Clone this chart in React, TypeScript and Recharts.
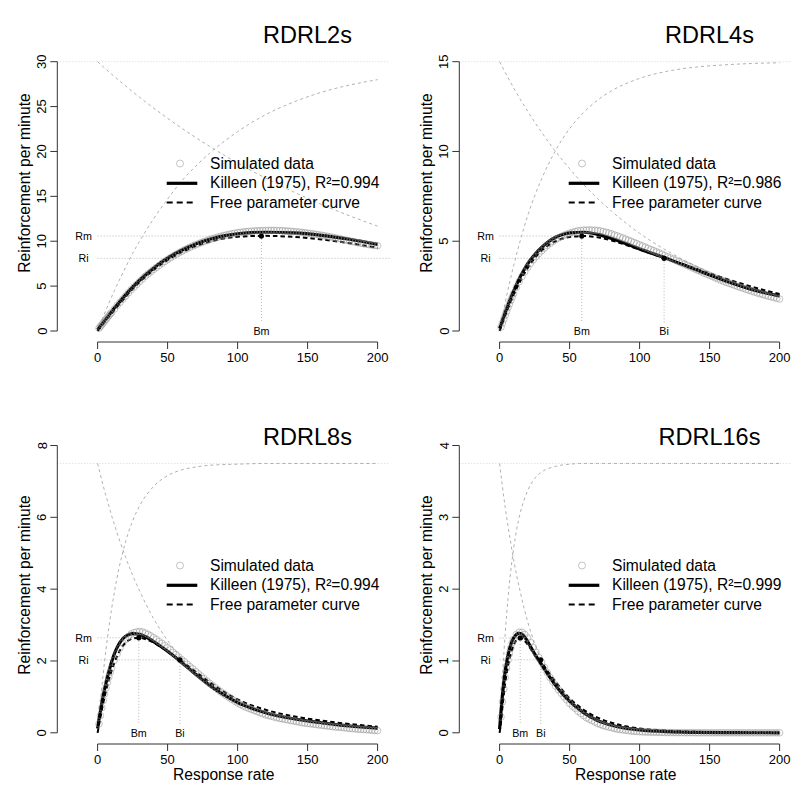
import React from "react";
import {
  ComposedChart,
  Line,
  Scatter,
  XAxis,
  YAxis,
  ReferenceLine,
  ReferenceDot,
} from "recharts";

// ---- data ----
const titles = ["RDRL2s", "RDRL4s", "RDRL8s", "RDRL16s"];
const r2Values = ["0.994", "0.986", "0.994", "0.999"];
const yMaxTicks = [30, 15, 8, 4];
const yTickSets = [
  [0, 5, 10, 15, 20, 25, 30],
  [0, 5, 10, 15],
  [0, 2, 4, 6, 8],
  [0, 1, 2, 3, 4],
];
const xTicks = [0, 50, 100, 150, 200];
const asymptotes = [30, 15, 7.5, 3.75];
const bmValues = [117, 58.7, 29.4, 14.7];
const rmValues = [10.58, 5.29, 2.645, 1.32];
const biValues = [234, 117.5, 58.8, 29.4];
const riValues = [8.1, 4.05, 2.03, 1.016];

const fitX = [0, 1, 2, 3, 4, 5, 6, 8, 10, 12, 14, 16, 18, 20, 25, 30, 35, 40, 45, 50, 60, 70, 80, 90, 100, 120, 140, 160, 180, 200];
const p1Killeen = [0.15, 0.35, 0.55, 0.75, 0.95, 1.15, 1.35, 1.75, 2.15, 2.55, 2.93, 3.3, 3.67, 4.03, 4.88, 5.65, 6.35, 7.0, 7.6, 8.12, 9.0, 9.7, 10.22, 10.6, 10.83, 11.0, 10.93, 10.66, 10.22, 9.65];
const p1Free = [0, 0.2, 0.4, 0.6, 0.8, 1.0, 1.2, 1.58, 1.96, 2.34, 2.71, 3.08, 3.44, 3.8, 4.68, 5.45, 6.15, 6.8, 7.38, 7.9, 8.78, 9.45, 9.95, 10.3, 10.5, 10.6, 10.48, 10.2, 9.78, 9.25];
const p2Killeen = [0.15, 0.35, 0.58, 0.8, 1.02, 1.23, 1.44, 1.84, 2.22, 2.57, 2.9, 3.2, 3.48, 3.74, 4.25, 4.65, 4.98, 5.22, 5.38, 5.47, 5.5, 5.38, 5.15, 4.87, 4.57, 4.03, 3.42, 2.83, 2.32, 1.95];
const p2Free = [0, 0.22, 0.44, 0.65, 0.86, 1.06, 1.26, 1.65, 2.0, 2.34, 2.66, 2.96, 3.24, 3.5, 4.05, 4.47, 4.78, 5.0, 5.15, 5.24, 5.29, 5.22, 5.04, 4.8, 4.53, 4.0, 3.47, 2.95, 2.47, 2.06];
const p3Killeen = [0.12, 0.37, 0.6, 0.82, 1.03, 1.22, 1.39, 1.7, 1.97, 2.2, 2.38, 2.52, 2.62, 2.69, 2.76, 2.74, 2.66, 2.54, 2.41, 2.27, 1.96, 1.63, 1.32, 1.06, 0.84, 0.56, 0.39, 0.28, 0.19, 0.13];
const p3Free = [0, 0.22, 0.43, 0.63, 0.82, 1.0, 1.17, 1.47, 1.73, 1.95, 2.14, 2.3, 2.42, 2.51, 2.62, 2.645, 2.6, 2.51, 2.39, 2.26, 1.99, 1.7, 1.41, 1.15, 0.93, 0.64, 0.46, 0.34, 0.245, 0.17];
const p4Killeen = [0.05, 0.3, 0.52, 0.7, 0.86, 0.98, 1.08, 1.23, 1.32, 1.37, 1.385, 1.37, 1.33, 1.27, 1.1, 0.95, 0.8, 0.66, 0.54, 0.44, 0.28, 0.17, 0.105, 0.065, 0.04, 0.015, 0.006, 0.002, 0.001, 0];
const p4Free = [0, 0.15, 0.35, 0.53, 0.69, 0.82, 0.93, 1.1, 1.22, 1.29, 1.32, 1.31, 1.28, 1.23, 1.09, 0.98, 0.84, 0.71, 0.59, 0.48, 0.32, 0.21, 0.14, 0.09, 0.06, 0.03, 0.015, 0.008, 0.004, 0.002];

const simX = [
  1, 2, 3, 4, 5, 6, 7, 8, 9, 10,
  12, 14, 16, 18, 20, 22, 24, 26, 28, 30, 32, 34, 36, 38, 40,
  42, 44, 46, 48, 50, 52, 54, 56, 58, 60, 62, 64, 66, 68, 70, 72, 74, 76, 78, 80, 82, 84, 86, 88, 90, 92, 94, 96, 98, 100,
  102, 104, 106, 108, 110, 112, 114, 116, 118, 120, 122, 124, 126, 128, 130, 132, 134, 136, 138, 140,
  142, 144, 146, 148, 150, 152, 154, 156, 158, 160, 162, 164, 166, 168, 170, 172, 174, 176, 178, 180,
  182, 184, 186, 188, 190, 192, 194, 196, 198, 200,
];
const p1Sim = [
  0.3, 0.5, 0.7, 0.9, 1.1, 1.3, 1.5, 1.7, 1.9, 2.05,
  2.45, 2.85, 3.2, 3.55, 3.9, 4.25, 4.6, 4.9, 5.2, 5.5, 5.8, 6.1, 6.35, 6.6, 6.85,
  7.08, 7.31, 7.54, 7.75, 7.95, 8.15, 8.35, 8.53, 8.7, 8.87, 9.03, 9.18, 9.33, 9.47, 9.6, 9.73, 9.85, 9.97, 10.08, 10.18, 10.28, 10.37, 10.46, 10.55, 10.63, 10.7, 10.77, 10.84, 10.9, 10.95,
  11.0, 11.03, 11.07, 11.1, 11.12, 11.15, 11.17, 11.18, 11.19, 11.2, 11.21, 11.21, 11.21, 11.2, 11.19, 11.18, 11.16, 11.14, 11.11, 11.08,
  11.05, 11.02, 10.98, 10.95, 10.9, 10.86, 10.82, 10.77, 10.72, 10.66, 10.61, 10.55, 10.49, 10.43, 10.37, 10.3, 10.24, 10.17, 10.1, 10.03,
  9.97, 9.9, 9.84, 9.78, 9.72, 9.67, 9.62, 9.58, 9.54, 9.5,
];
const p2Sim = [
  0.22, 0.44, 0.66, 0.88, 1.09, 1.3, 1.5, 1.7, 1.89, 2.08,
  2.43, 2.75, 3.04, 3.3, 3.54, 3.76, 3.96, 4.14, 4.31, 4.47, 4.62, 4.76, 4.88, 4.99, 5.09,
  5.18, 5.26, 5.33, 5.39, 5.45, 5.5, 5.54, 5.58, 5.6, 5.62, 5.62, 5.63, 5.62, 5.61, 5.6, 5.57, 5.54, 5.5, 5.46, 5.41, 5.35, 5.3, 5.24, 5.18, 5.12, 5.06, 5.0, 4.93, 4.87, 4.8,
  4.74, 4.67, 4.61, 4.54, 4.48, 4.41, 4.35, 4.28, 4.2, 4.13, 4.07, 4.0, 3.93, 3.86, 3.79, 3.72, 3.65, 3.58, 3.51, 3.44,
  3.37, 3.3, 3.23, 3.16, 3.1, 3.03, 2.96, 2.9, 2.83, 2.77, 2.71, 2.65, 2.6, 2.54, 2.48, 2.43, 2.38, 2.32, 2.27, 2.22,
  2.17, 2.12, 2.07, 2.03, 1.98, 1.94, 1.9, 1.86, 1.82, 1.78,
];
const p3Sim = [
  0.25, 0.48, 0.7, 0.9, 1.08, 1.25, 1.4, 1.55, 1.68, 1.8,
  2.02, 2.2, 2.36, 2.5, 2.6, 2.68, 2.75, 2.79, 2.81, 2.82, 2.81, 2.78, 2.74, 2.7, 2.65,
  2.6, 2.54, 2.49, 2.43, 2.37, 2.31, 2.24, 2.18, 2.11, 2.04, 1.98, 1.91, 1.84, 1.78, 1.71, 1.64, 1.58, 1.51, 1.44, 1.38, 1.32, 1.26, 1.2, 1.14, 1.09, 1.03, 0.98, 0.93, 0.88, 0.83,
  0.79, 0.75, 0.71, 0.68, 0.65, 0.62, 0.59, 0.56, 0.53, 0.5, 0.48, 0.46, 0.44, 0.42, 0.4, 0.39, 0.37, 0.36, 0.34, 0.33,
  0.31, 0.3, 0.28, 0.27, 0.26, 0.25, 0.24, 0.23, 0.22, 0.21, 0.2, 0.19, 0.18, 0.17, 0.16, 0.155, 0.15, 0.14, 0.13, 0.12,
  0.115, 0.11, 0.1, 0.095, 0.09, 0.085, 0.08, 0.07, 0.065, 0.06,
];
const p4Sim = [
  0.22, 0.43, 0.61, 0.77, 0.9, 1.01, 1.1, 1.18, 1.25, 1.3,
  1.37, 1.4, 1.4, 1.37, 1.32, 1.26, 1.19, 1.12, 1.05, 0.98, 0.91, 0.84, 0.77, 0.71, 0.65,
  0.6, 0.55, 0.5, 0.46, 0.41, 0.37, 0.34, 0.3, 0.27, 0.24, 0.21, 0.19, 0.17, 0.15, 0.13, 0.115, 0.1, 0.09, 0.08, 0.07, 0.06, 0.05, 0.045, 0.04, 0.035, 0.03, 0.025, 0.02, 0.018, 0.015,
  0.013, 0.011, 0.01, 0.009, 0.008, 0.007, 0.006, 0.005, 0.004, 0.004, 0.003, 0.003, 0.002, 0.002, 0.002, 0.001, 0.001, 0.001, 0.001, 0.001,
  0, 0, 0, 0, 0, 0, 0, 0, 0, 0, 0, 0, 0, 0, 0, 0, 0, 0, 0, 0,
  0, 0, 0, 0, 0, 0, 0, 0, 0, 0,
];

const guideX = [0, 2, 4, 6, 8, 10, 12, 15, 20, 25, 30, 40, 50, 60, 70, 80, 100, 120, 140, 160, 180, 200];
const p1Rise = [0, 0.8, 1.58, 2.34, 3.07, 3.79, 4.5, 5.5, 7.1, 8.65, 10.0, 12.5, 14.7, 16.7, 18.35, 19.8, 22.2, 24.1, 25.5, 26.6, 27.4, 28.0];
const p1Decay = [30, 29.72, 29.44, 29.16, 28.89, 28.62, 28.35, 27.95, 27.3, 26.66, 26.04, 24.84, 23.7, 22.6, 21.56, 20.57, 18.72, 17.03, 15.5, 14.1, 12.83, 11.68];
const p2Rise = [0, 0.81, 1.58, 2.3, 2.98, 3.63, 4.24, 5.1, 6.41, 7.52, 8.47, 10.06, 11.27, 12.17, 12.86, 13.38, 14.07, 14.47, 14.7, 14.82, 14.9, 14.94];
const p2Decay = [15, 14.7, 14.4, 14.11, 13.83, 13.55, 13.28, 12.88, 12.25, 11.64, 11.07, 10.0, 9.04, 8.16, 7.38, 6.67, 5.44, 4.45, 3.63, 2.96, 2.42, 1.97];
const p3Rise = [0, 0.87, 1.64, 2.32, 2.92, 3.45, 3.92, 4.53, 5.32, 5.9, 6.32, 6.86, 7.16, 7.32, 7.4, 7.45, 7.48, 7.5, 7.5, 7.5, 7.5, 7.5];
const p3Decay = [7.5, 7.19, 6.88, 6.6, 6.32, 6.05, 5.8, 5.44, 4.89, 4.39, 3.95, 3.18, 2.57, 2.08, 1.68, 1.35, 0.88, 0.57, 0.37, 0.24, 0.16, 0.1];
const p4Rise = [0, 0.77, 1.38, 1.87, 2.26, 2.56, 2.81, 3.08, 3.37, 3.54, 3.63, 3.71, 3.74, 3.75, 3.75, 3.75, 3.75, 3.75, 3.75, 3.75, 3.75, 3.75];
const p4Decay = [3.75, 3.43, 3.14, 2.88, 2.64, 2.41, 2.21, 1.94, 1.55, 1.25, 1.0, 0.64, 0.41, 0.27, 0.17, 0.11, 0.046, 0.019, 0.008, 0.003, 0.001, 0.0005];

const killeenSets = [p1Killeen, p2Killeen, p3Killeen, p4Killeen];
const freeSets = [p1Free, p2Free, p3Free, p4Free];
const simSets = [p1Sim, p2Sim, p3Sim, p4Sim];
const riseSets = [p1Rise, p2Rise, p3Rise, p4Rise];
const decaySets = [p1Decay, p2Decay, p3Decay, p4Decay];

// ---- layout (pixels inside one 401.5px panel) ----
const FONT = '"Liberation Sans", Arial, Helvetica, sans-serif';
const PANEL = 401.5;
const PLOT_LEFT = 57.3;
const PLOT_RIGHT = 390;
const PLOT_TOP = 23;
const PLOT_BOTTOM = 342;
const X_ZERO_PX = 97.6;
const X_PX_PER_UNIT = 1.4;
const X_DOMAIN = [
  (PLOT_LEFT - X_ZERO_PX) / X_PX_PER_UNIT,
  (PLOT_RIGHT - X_ZERO_PX) / X_PX_PER_UNIT,
];
const AXIS = "#333";
const GUIDE = "#b0b0b0";
const REF = "#b5b5b5";
const SIM = "#8c8c8c";
const SIM_OPACITY = 0.5;

const toPts = (xs: number[], ys: number[]) => xs.map((x, i) => ({ x, y: ys[i] }));

function XTick(props: any) {
  return (
    <text x={props.x} y={361.5} textAnchor="middle" fontSize={13} fontFamily={FONT} fill="#000">
      {props.payload.value}
    </text>
  );
}

function YTick(props: any) {
  const y = props.y;
  return (
    <text
      x={46.5}
      y={y}
      transform={`rotate(-90 46.5 ${y})`}
      textAnchor="middle"
      fontSize={13}
      fontFamily={FONT}
      fill="#000"
    >
      {props.payload.value}
    </text>
  );
}

function SimCircle(props: any) {
  return (
    <circle cx={props.cx} cy={props.cy} r={3.3} fill="none" stroke={SIM} strokeOpacity={SIM_OPACITY} strokeWidth={1} />
  );
}

function KeyDot(props: any) {
  return <circle cx={props.cx} cy={props.cy} r={2.6} fill="#000" />;
}

function Panel({ i }: { i: number }) {
  const row = Math.floor(i / 2);
  const col = i % 2;
  const zeroPx = row === 0 ? 331 : 330.8;
  const topTickPx = row === 0 ? 61.7 : 43.5;
  const yMax = yMaxTicks[i];
  const k = (zeroPx - topTickPx) / yMax;
  const yDomain = [-(PLOT_BOTTOM - zeroPx) / k, yMax + (topTickPx - PLOT_TOP) / k];
  const bm = bmValues[i];
  const rm = rmValues[i];
  const bi = biValues[i];
  const ri = riValues[i];
  const biInside = bi <= 200;
  const stemEnd = 8.5 / k;
  const keyPts = [{ x: bm, y: rm }, ...(biInside ? [{ x: bi, y: ri }] : [])];
  const labelStyle = { fontSize: 10.7, fill: "#000", fontFamily: FONT, position: "center" as const };

  return (
    <div style={{ position: "absolute", left: col * PANEL, top: row * PANEL, width: PANEL, height: PANEL }}>
      <ComposedChart
        width={PANEL}
        height={PANEL}
        margin={{ top: PLOT_TOP, right: PANEL - PLOT_RIGHT, bottom: PANEL - PLOT_BOTTOM - 30, left: PLOT_LEFT - 40 }}
      >
        <XAxis
          type="number"
          dataKey="x"
          domain={X_DOMAIN}
          allowDataOverflow
          ticks={xTicks}
          interval={0}
          axisLine={false}
          tickLine={{ stroke: AXIS }}
          tickSize={7}
          tick={<XTick />}
          height={30}
        />
        <YAxis
          type="number"
          dataKey="y"
          domain={yDomain}
          allowDataOverflow
          ticks={yTickSets[i]}
          interval={0}
          axisLine={false}
          tickLine={{ stroke: AXIS }}
          tickSize={7}
          tick={<YTick />}
          width={40}
        />
        <ReferenceLine y={asymptotes[i]} stroke="#d6d6d6" strokeDasharray="1 2" ifOverflow="visible" />
        <ReferenceLine segment={[{ x: 0, y: rm }, { x: bm, y: rm }]} stroke={REF} strokeDasharray="1 2" ifOverflow="visible" />
        <ReferenceLine
          segment={[{ x: 0, y: ri }, { x: Math.min(bi, X_DOMAIN[1]), y: ri }]}
          stroke={REF}
          strokeDasharray="1 2"
          ifOverflow="visible"
        />
        <ReferenceLine segment={[{ x: bm, y: rm }, { x: bm, y: stemEnd }]} stroke={REF} strokeDasharray="1 2" ifOverflow="visible" />
        {biInside && (
          <ReferenceLine segment={[{ x: bi, y: ri }, { x: bi, y: stemEnd }]} stroke={REF} strokeDasharray="1 2" ifOverflow="visible" />
        )}
        <ReferenceLine segment={[{ x: 0, y: yDomain[0] }, { x: 200, y: yDomain[0] }]} stroke={AXIS} ifOverflow="visible" />
        <ReferenceLine segment={[{ x: X_DOMAIN[0], y: 0 }, { x: X_DOMAIN[0], y: yMax }]} stroke={AXIS} ifOverflow="visible" />
        <ReferenceDot x={-10} y={rm} r={0} fill="none" stroke="none" ifOverflow="visible" label={{ value: "Rm", ...labelStyle }} />
        <ReferenceDot x={-10} y={ri} r={0} fill="none" stroke="none" ifOverflow="visible" label={{ value: "Ri", ...labelStyle }} />
        <ReferenceDot x={bm} y={0} r={0} fill="none" stroke="none" ifOverflow="visible" label={{ value: "Bm", ...labelStyle }} />
        {biInside && (
          <ReferenceDot x={bi} y={0} r={0} fill="none" stroke="none" ifOverflow="visible" label={{ value: "Bi", ...labelStyle }} />
        )}
        <Scatter data={toPts(simX, simSets[i])} shape={SimCircle} isAnimationActive={false} />
        <Line data={toPts(guideX, riseSets[i])} dataKey="y" type="monotone" stroke={GUIDE} strokeWidth={1} strokeDasharray="3 3" dot={false} isAnimationActive={false} />
        <Line data={toPts(guideX, decaySets[i])} dataKey="y" type="monotone" stroke={GUIDE} strokeWidth={1} strokeDasharray="3 3" dot={false} isAnimationActive={false} />
        <Line data={toPts(fitX, killeenSets[i])} dataKey="y" type="monotone" stroke="#000" strokeWidth={3.2} dot={false} isAnimationActive={false} />
        <Line data={toPts(fitX, freeSets[i])} dataKey="y" type="monotone" stroke="#000" strokeWidth={2} strokeDasharray="4.5 3" dot={false} isAnimationActive={false} />
        <Scatter data={keyPts} shape={KeyDot} isAnimationActive={false} />
      </ComposedChart>
      <svg
        width={PANEL}
        height={PANEL}
        style={{ position: "absolute", left: 0, top: 0, pointerEvents: "none" }}
        fontFamily={FONT}
      >
        <text x={307.5} y={43.3} textAnchor="middle" fontSize={23.5} fill="#000">
          {titles[i]}
        </text>
        <text x={29.5} y={183} transform="rotate(-90 29.5 183)" textAnchor="middle" fontSize={15.6} fill="#000">
          Reinforcement per minute
        </text>
        {row === 1 && (
          <text x={223.7} y={378} textAnchor="middle" fontSize={15.6} fill="#000">
            Response rate
          </text>
        )}
        <circle cx={180} cy={163.5} r={3.5} fill="none" stroke={SIM} strokeOpacity={SIM_OPACITY} strokeWidth={1} />
        <line x1={166.7} y1={183.3} x2={197.3} y2={183.3} stroke="#000" strokeWidth={3.2} />
        <line x1={166.7} y1={202.5} x2={194} y2={202.5} stroke="#000" strokeWidth={2} strokeDasharray="6 4" />
        <text x={210} y={168.5} fontSize={15.6} fill="#000">Simulated data</text>
        <text x={210} y={188} fontSize={15.6} fill="#000">{`Killeen (1975), R\u00B2=${r2Values[i]}`}</text>
        <text x={210} y={207.5} fontSize={15.6} fill="#000">Free parameter curve</text>
      </svg>
    </div>
  );
}

export default function App() {
  return (
    <div style={{ position: "absolute", left: 0, top: 0, width: 803, height: 803, background: "#fff" }}>
      {[0, 1, 2, 3].map((i) => (
        <Panel key={i} i={i} />
      ))}
    </div>
  );
}
